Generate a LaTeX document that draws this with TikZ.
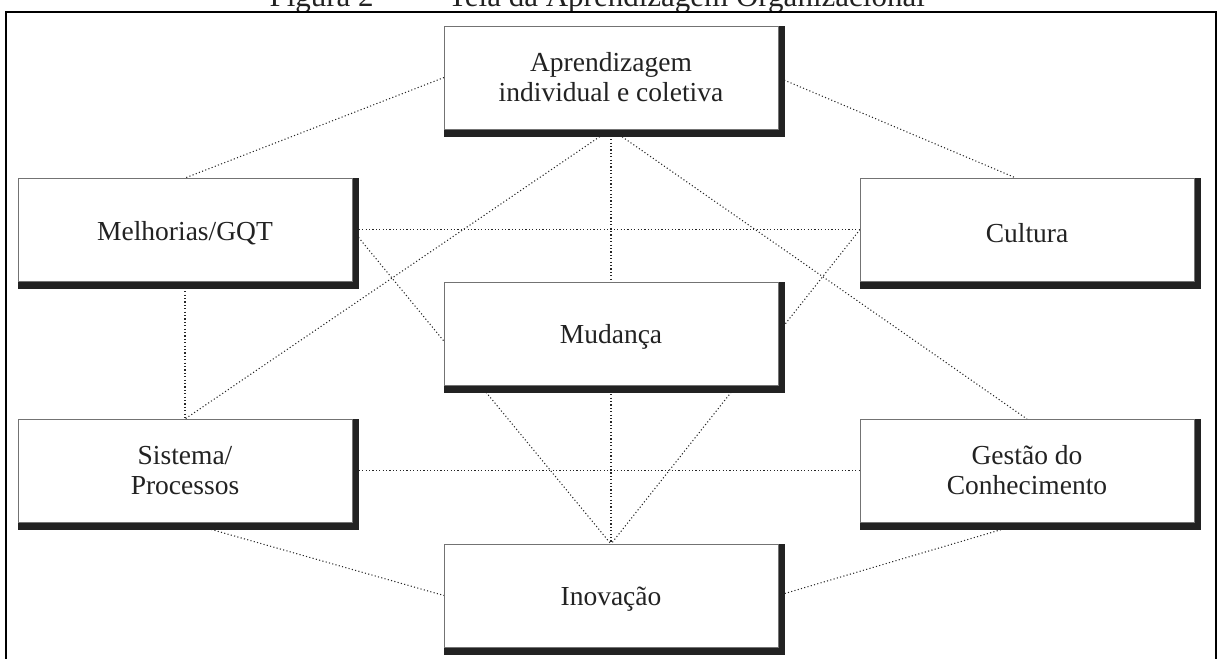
\documentclass[tikz,border=0pt]{standalone}
\usepackage{fontspec}
\setmainfont{Liberation Serif}
\usetikzlibrary{calc}
\pgfdeclarelayer{bg}
\pgfsetlayers{bg,main}
\definecolor{ink}{HTML}{222222}
\begin{document}
\begin{tikzpicture}[x=1pt,y=-1pt,
  pbox/.style={draw=black!55, line width=0.8pt, fill=white,
    minimum width=334pt, minimum height=103pt, inner sep=0pt, outer sep=0pt,
    align=center, anchor=north west, text=ink,
    font=\fontsize{27.5}{30}\selectfont,
    execute at begin node={\rule{0pt}{26pt}}},
  link/.style={draw=black!85, line width=1.05pt, dash pattern=on 1.1pt off 2.3pt},
  shade/.style={fill=ink}]
\useasboundingbox (0,0) rectangle (1219,659);

% caption above the frame
\node[font=\fontsize{31}{34}\selectfont, text=ink, anchor=base east, inner sep=0pt] (title) at (925,6)
  {Figura 2\hspace{0.95em}–\hspace{0.95em}Teia da Aprendizagem Organizacional};

% outer frame
\draw[line width=2pt] (6,12) rectangle (1216,700);

% boxes
\node[pbox] (apr) at (444,26)  {Aprendizagem\\individual e coletiva};
\node[pbox] (mel) at (18,178)  {Melhorias/GQT};
\node[pbox] (cul) at (860,178) {Cultura};
\node[pbox] (mud) at (444,282) {Mudança};
\node[pbox] (sis) at (18,419)  {Sistema/\\Processos};
\node[pbox] (ges) at (860,419) {Gestão do\\Conhecimento};
\node[pbox] (ino) at (444,544) {Inovação};

\begin{pgfonlayer}{bg}
  % dotted links of the web
  \draw[link] (apr.west) -- (mel.north);
  \draw[link] (apr.east) -- ($(cul.north)+(-11,0)$);
  \draw[link] (apr.south) -- (sis.north);
  \draw[link] (apr.south) -- (ges.north);
  \draw[link] (apr.south) -- (ino.north);
  \draw[link] (mel.east) -- (cul.west);
  \draw[link] (mel.east) -- (ino.north);
  \draw[link] (cul.west) -- (ino.north);
  \draw[link] (mel.south) -- (sis.north);
  \draw[link] (sis.east) -- (ges.west);
  \draw[link] (sis.south) -- (ino.west);
  \draw[link] (ges.south) -- (ino.east);
  % heavy right and bottom edges of each box
  \foreach \n in {apr,mel,cul,mud,sis,ges,ino}
    \fill[shade] (\n.north west) rectangle ($(\n.south east)+(7,8)$);
\end{pgfonlayer}
\end{tikzpicture}
\end{document}
